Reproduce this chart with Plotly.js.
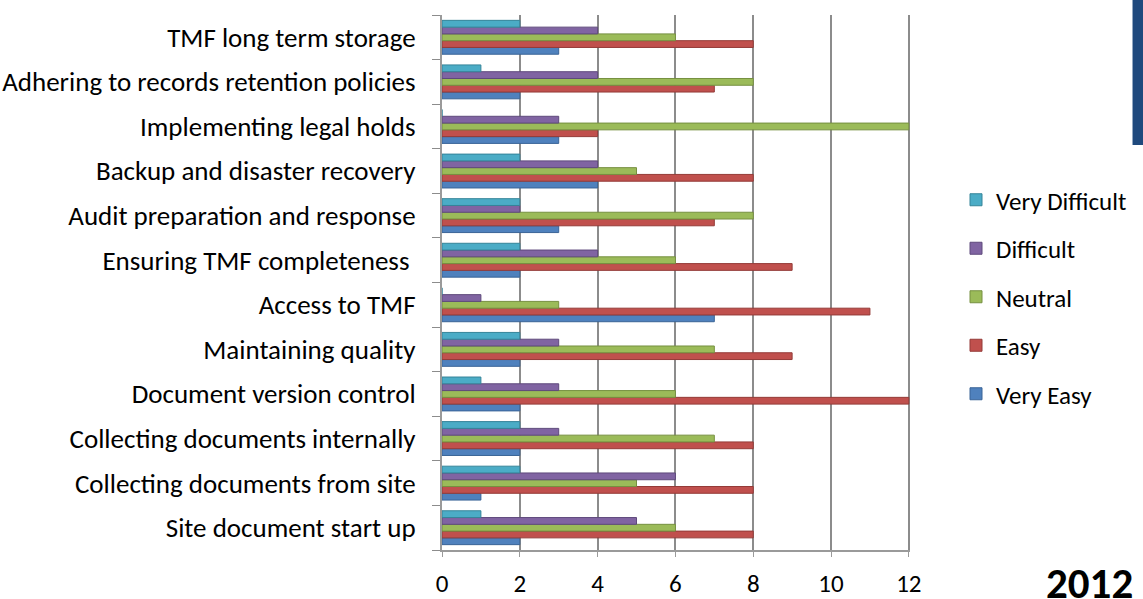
<!DOCTYPE html>
<html>
<head>
<meta charset="utf-8">
<script src="https://cdn.plot.ly/plotly-3.0.1.min.js"></script>
<style>
html,body{margin:0;padding:0;background:#fff;overflow:hidden;}
#chart{width:1143px;height:599px;}
</style>
</head>
<body>
<div id="chart"></div>
<script>
const categories = [
  "Site document start up",
  "Collecting documents from site",
  "Collecting documents internally",
  "Document version control",
  "Maintaining quality",
  "Access to TMF",
  "Ensuring TMF completeness ",
  "Audit preparation and response",
  "Backup and disaster recovery",
  "Implementing legal holds",
  "Adhering to records retention policies",
  "TMF long term storage"
];
const veryEasy      = [2, 1, 2, 2, 2, 7, 2, 3, 4, 3, 2, 3];
const easy          = [8, 8, 8, 12, 9, 11, 9, 7, 8, 4, 7, 8];
const neutral       = [6, 5, 7, 6, 7, 3, 6, 8, 5, 12, 8, 6];
const difficult     = [5, 6, 3, 3, 3, 1, 4, 2, 4, 3, 4, 4];
const veryDifficult = [1, 2, 2, 1, 2, 0, 2, 2, 2, 0, 1, 2];
const xTicks = [0, 2, 4, 6, 8, 10, 12];
const seriesNames = ["Very Easy", "Easy", "Neutral", "Difficult", "Very Difficult"];
const yearLabel = "2012";

const seriesData = [veryEasy, easy, neutral, difficult, veryDifficult];
const colors = ["#4F81BD", "#C0504D", "#9BBB59", "#8064A2", "#4BACC6"];
const lineColors = ["#3A6497", "#943B38", "#769040", "#5F4A7C", "#358499"];

const traces = seriesNames.map((name, i) => ({
  type: "bar",
  orientation: "h",
  name: name,
  legendgroup: "g" + i,
  legendrank: seriesNames.length - i,
  y: categories,
  x: seriesData[i],
  marker: {color: colors[i], line: {color: lineColors[i], width: 1}},
  hoverinfo: "x+y+name"
}));

const font = "Calibri, Carlito, 'Open Sans', sans-serif";
const L = 442, R = 232, T = 15, B = 49;
const W = 1143 - L - R, H = 599 - T - B;

const layout = {
  width: 1143,
  height: 599,
  margin: {l: L, r: R, t: T, b: B},
  paper_bgcolor: "#ffffff",
  plot_bgcolor: "#ffffff",
  barmode: "group",
  bargap: 0.24,
  bargroupgap: 0,
  font: {family: font, size: 25, color: "#000000"},
  xaxis: {
    range: [0, 12.03],
    tickvals: xTicks,
    ticktext: xTicks.map(String),
    showgrid: true,
    gridcolor: "#8c8c8c",
    gridwidth: 2,
    zeroline: false,
    showline: true,
    linecolor: "#9a9a9a",
    linewidth: 2,
    ticks: "outside",
    ticklen: 5,
    tickcolor: "#9a9a9a",
    tickwidth: 1,
    tickfont: {family: font, size: 25, color: "#000"},
    ticklabelstandoff: 5
  },
  yaxis: {
    type: "category",
    categoryorder: "array",
    categoryarray: categories,
    showgrid: false,
    zeroline: false,
    showline: true,
    linecolor: "#9a9a9a",
    linewidth: 2,
    ticks: "outside",
    tickson: "boundaries",
    ticklen: 8,
    tickcolor: "#8c8c8c",
    tickfont: {family: font, size: 27, color: "#000"},
    ticklabelstandoff: 19
  },
  legend: {
    x: (956 - L) / W,
    xanchor: "left",
    y: 1 - (177 - T) / H,
    yanchor: "top",
    traceorder: "grouped",
    font: {family: font, size: 25, color: "#000"},
    tracegroupgap: 13,
    bgcolor: "rgba(0,0,0,0)"
  },
  shapes: [{
    type: "rect", xref: "paper", yref: "paper",
    x0: (1134 - L) / W, x1: (1146 - L) / W,
    y0: (599 - B - 145) / H, y1: (599 - B + 5) / H,
    fillcolor: "#1F497D", line: {width: 0}, layer: "above"
  }],
  annotations: [{
    text: "<b>" + yearLabel + "</b>",
    xref: "paper", yref: "paper",
    x: (1045 - L) / W, xanchor: "left",
    y: -(583 - (599 - B)) / H, yanchor: "middle",
    showarrow: false,
    font: {family: font, size: 43, color: "#000"}
  }],
  showlegend: true
};

Plotly.newPlot("chart", traces, layout, {displayModeBar: false, staticPlot: true});
</script>
</body>
</html>
